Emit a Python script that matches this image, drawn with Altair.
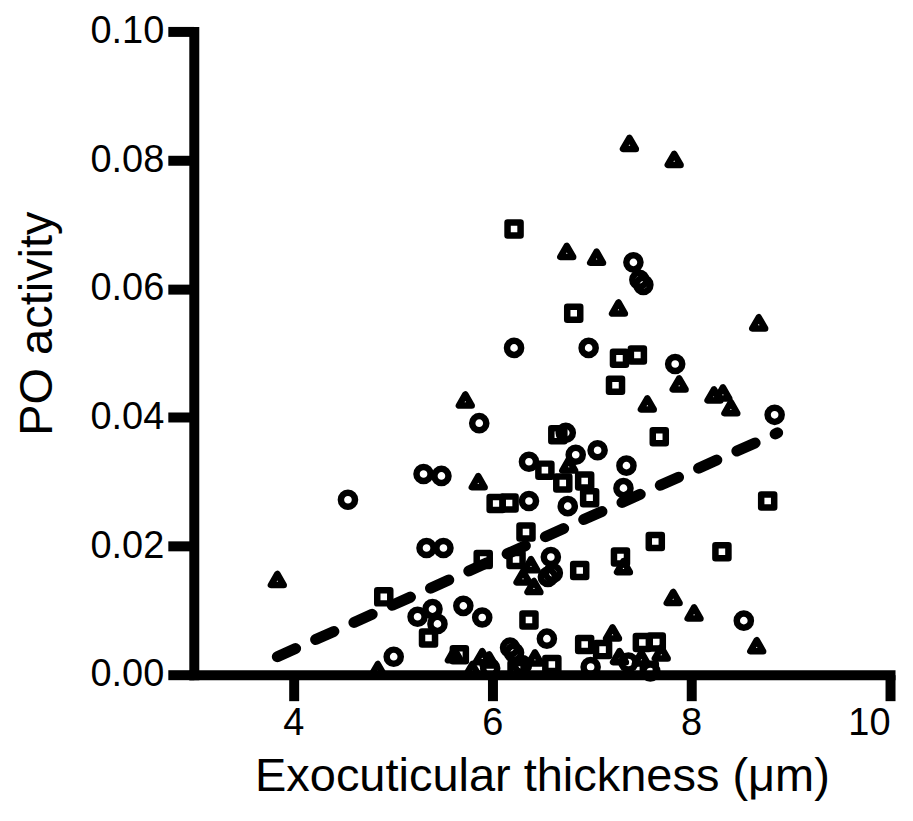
import altair as alt
import pandas as pd

# ---- data ----
circle_x = [6.22, 7.42, 7.48, 7.52, 6.97, 7.84, 8.84, 5.87, 6.74, 7.06, 6.84, 6.37, 7.35,
            5.31, 5.49, 7.32, 4.55, 6.37, 6.76, 5.34, 5.51, 6.59, 6.56, 6.61, 5.40, 5.25,
            5.45, 5.71, 5.90, 8.53, 6.55, 5.01, 6.18, 6.22, 7.37, 6.99, 5.98, 7.59, 6.30]
circle_y = [0.0508, 0.0641, 0.0614, 0.0606, 0.0508, 0.0483, 0.0404, 0.0391, 0.0376, 0.0349,
            0.0342, 0.0331, 0.0325, 0.0312, 0.0309, 0.0290, 0.0272, 0.0270, 0.0262, 0.0197,
            0.0197, 0.0183, 0.0152, 0.0158, 0.0102, 0.0090, 0.0079, 0.0107, 0.0089, 0.0084,
            0.0056, 0.0028, 0.0042, 0.0034, 0.0019, 0.0012, 0.0010, 0.0005, 0.0015]

square_x = [6.22, 6.82, 7.28, 7.46, 7.24, 6.66, 7.68, 6.53, 6.71, 6.93, 6.98, 6.04, 6.17,
            8.77, 6.34, 7.64, 8.31, 7.29, 6.88, 5.91, 6.24, 4.91, 6.37, 5.36, 6.93, 7.51,
            7.65, 5.67, 7.11, 6.60, 6.25, 7.58]
square_y = [0.0693, 0.0562, 0.0492, 0.0497, 0.0450, 0.0373, 0.0370, 0.0318, 0.0298, 0.0301,
            0.0275, 0.0266, 0.0267, 0.0270, 0.0222, 0.0207, 0.0191, 0.0183, 0.0162, 0.0179,
            0.0179, 0.0121, 0.0085, 0.0057, 0.0047, 0.0050, 0.0051, 0.0031, 0.0039, 0.0016,
            0.0008, 0.0007]

triangle_x = [3.84, 7.38, 7.83, 6.75, 7.05, 7.27, 8.68, 7.88, 7.56, 8.23, 8.32, 8.40, 5.73,
              5.86, 6.77, 6.39, 6.31, 6.42, 7.32, 7.82, 8.03, 8.66, 7.21, 7.70, 7.50, 4.85,
              5.62, 5.90, 5.97, 6.43, 7.28, 5.80]
triangle_y = [0.0148, 0.0826, 0.0801, 0.0658, 0.0649, 0.0570, 0.0547, 0.0452, 0.0421, 0.0435,
              0.0438, 0.0415, 0.0427, 0.0300, 0.0326, 0.0171, 0.0152, 0.0137, 0.0168, 0.0120,
              0.0096, 0.0045, 0.0065, 0.0034, 0.0026, 0.0008, 0.0031, 0.0028, 0.0023, 0.0026,
              0.0028, 0.0008]

fit_x = [3.84, 8.87]
fit_y = [0.0028, 0.0376]

x_ticks = [4, 6, 8, 10]
y_ticks = [0.00, 0.02, 0.04, 0.06, 0.08, 0.10]

FONT = "Liberation Sans"

circles = pd.DataFrame({"x": circle_x, "y": circle_y})
squares = pd.DataFrame({"x": square_x, "y": square_y})
triangles = pd.DataFrame({"x": triangle_x, "y": triangle_y})
fit = pd.DataFrame({"x": fit_x, "y": fit_y})

x_scale = alt.Scale(domain=[3, 10], nice=False, zero=False)
y_scale = alt.Scale(domain=[0, 0.10], nice=False)

x_enc = alt.X("x:Q", scale=x_scale,
              axis=alt.Axis(values=x_ticks, format="d",
                            title="Exocuticular thickness (μm)",
                            titleY=116, titleBaseline="alphabetic"))
y_enc = alt.Y("y:Q", scale=y_scale,
              axis=alt.Axis(values=y_ticks, format=".2f", title="PO activity",
                            titleAngle=270, titleX=-142, titleY=292,
                            titleAlign="center", titleBaseline="alphabetic"))

line = alt.Chart(fit).mark_line(
    color="black", strokeWidth=11, strokeCap="round", strokeDash=[20, 22]
).encode(x=x_enc, y=y_enc)

pt_circle = alt.Chart(circles).mark_point(
    shape="circle", filled=False, stroke="black", strokeWidth=6.5, size=200, opacity=1
).encode(x="x:Q", y="y:Q")
pt_square = alt.Chart(squares).mark_point(
    shape="square", filled=False, stroke="black", strokeWidth=6.5, size=170, opacity=1,
    strokeJoin="round"
).encode(x="x:Q", y="y:Q")
pt_tri = alt.Chart(triangles).mark_point(
    shape="triangle-up", filled=False, stroke="black", strokeWidth=6.5, size=165, opacity=1,
    strokeJoin="round"
).encode(x="x:Q", y="y:Q")

chart = alt.layer(line, pt_circle, pt_square, pt_tri).properties(
    width=697, height=644,
    autosize=alt.AutoSizeParams(type="none"),
    padding={"left": 186, "top": 23, "right": 15, "bottom": 130},
    background="white",
).configure_view(stroke=None).configure_axis(
    grid=False,
    domainColor="black", domainWidth=10, domainCap="square",
    tickColor="black", tickWidth=10, tickSize=26,
    labelFont=FONT, labelFontSize=38, labelColor="black", labelPadding=4,
    titleFont=FONT, titleFontSize=47, titleFontWeight="normal", titleColor="black",
)

chart.save("out.html", embed_options={"renderer": "svg", "actions": False})
